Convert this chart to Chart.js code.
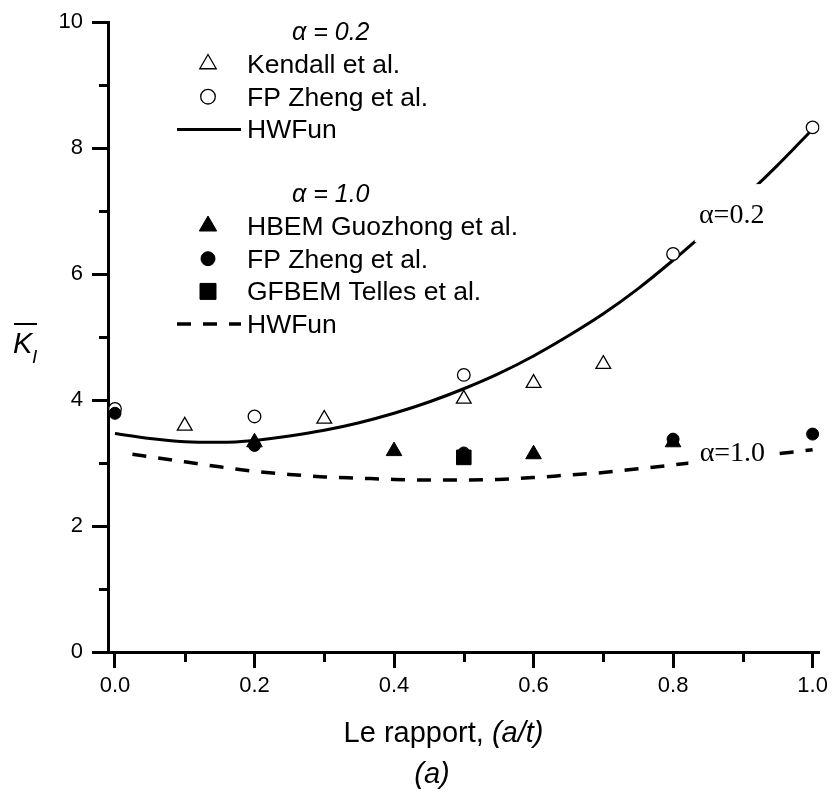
<!DOCTYPE html>
<html>
<head>
<meta charset="utf-8">
<script src="https://cdn.jsdelivr.net/npm/chart.js@4/dist/chart.umd.min.js"></script>
<style>
  html, body { margin: 0; padding: 0; background: #fff; }
  canvas { display: block; }
</style>
</head>
<body>
<canvas id="c" width="833" height="793"></canvas>
<script>
// Normalised stress intensity factor K_I against the crack depth ratio a/t

// alpha = 0.2
const kendallX = [0.1, 0.3, 0.5, 0.6, 0.7];
const kendallY = [3.59, 3.70, 4.02, 4.27, 4.57];
const zhengLowX = [0.0, 0.2, 0.5, 0.8, 1.0];
const zhengLowY = [3.86, 3.74, 4.40, 6.32, 8.33];
const hwfunLowX = [0.0, 0.05, 0.1, 0.15, 0.2, 0.25, 0.3, 0.35, 0.4, 0.45, 0.5, 0.55, 0.6, 0.65, 0.7, 0.75, 0.8, 0.85, 0.9, 0.95, 1.0];
const hwfunLowY = [3.47, 3.39, 3.34, 3.33, 3.36, 3.43, 3.52, 3.64, 3.79, 3.97, 4.18, 4.42, 4.70, 5.02, 5.37, 5.77, 6.22, 6.70, 7.20, 7.73, 8.30];

// alpha = 1.0
const guozhongX = [0.2, 0.4, 0.6, 0.8];
const guozhongY = [3.33, 3.19, 3.14, 3.33];
const zhengHighX = [0.0, 0.2, 0.5, 0.8, 1.0];
const zhengHighY = [3.79, 3.28, 3.16, 3.38, 3.46];
const tellesX = [0.5];
const tellesY = [3.09];
const hwfunHighX = [0.025, 0.05, 0.1, 0.15, 0.2, 0.25, 0.3, 0.35, 0.4, 0.45, 0.5, 0.55, 0.6, 0.65, 0.7, 0.75, 0.8, 0.85, 0.9, 0.95, 1.0];
const hwfunHighY = [3.14, 3.10, 3.02, 2.94, 2.87, 2.82, 2.78, 2.76, 2.74, 2.73, 2.73, 2.74, 2.77, 2.81, 2.85, 2.91, 2.97, 3.03, 3.09, 3.15, 3.21];

// axis ticks
const xMajorTicks = [0.0, 0.2, 0.4, 0.6, 0.8, 1.0];
const xMinorTicks = [0.1, 0.3, 0.5, 0.7, 0.9];
const yMajorTicks = [0, 2, 4, 6, 8, 10];
const yMinorTicks = [1, 3, 5, 7, 9];

// legend groups (dataset indices under each heading)
const legendHeadings = ['α = 0.2', 'α = 1.0'];
const legendGroups = [[0, 1, 2], [3, 4, 5, 6]];

const pts = (xs, ys) => xs.map((x, i) => ({ x: x, y: ys[i] }));

const SANS = "'Liberation Sans', Arial, Helvetica, sans-serif";
const SERIF = "'Liberation Serif', 'Times New Roman', serif";

function drawMarker(ctx, style, x, y, r, filled, lw) {
  ctx.save();
  ctx.beginPath();
  if (style === 'circle') {
    ctx.arc(x, y, r, 0, Math.PI * 2);
  } else if (style === 'triangle') {
    let a = 0;
    ctx.moveTo(x + Math.sin(a) * r, y - Math.cos(a) * r);
    a += Math.PI * 2 / 3;
    ctx.lineTo(x + Math.sin(a) * r, y - Math.cos(a) * r);
    a += Math.PI * 2 / 3;
    ctx.lineTo(x + Math.sin(a) * r, y - Math.cos(a) * r);
    ctx.closePath();
  } else if (style === 'rect') {
    const s = r * Math.SQRT1_2;
    ctx.rect(x - s, y - s, 2 * s, 2 * s);
  }
  ctx.fillStyle = filled ? '#000' : '#fff';
  ctx.fill();
  ctx.lineWidth = lw;
  ctx.strokeStyle = '#000';
  ctx.stroke();
  ctx.restore();
}

// minor tick marks on both axes
const minorTicks = {
  id: 'minorTicks',
  afterDraw(chart) {
    const ctx = chart.ctx, xs = chart.scales.x, ys = chart.scales.y, a = chart.chartArea;
    ctx.save();
    ctx.strokeStyle = '#000';
    ctx.lineWidth = 3;
    ctx.beginPath();
    xMinorTicks.forEach(v => {
      const px = Math.round(xs.getPixelForValue(v)) + 0.5;
      ctx.moveTo(px, a.bottom);
      ctx.lineTo(px, a.bottom + 10);
    });
    yMinorTicks.forEach(v => {
      const py = Math.round(ys.getPixelForValue(v)) + 0.5;
      ctx.moveTo(a.left, py);
      ctx.lineTo(a.left - 9, py);
    });
    ctx.stroke();
    ctx.restore();
  }
};

// curve labels sitting on a white box that interrupts the curve
const curveLabels = {
  id: 'curveLabels',
  afterDatasetsDraw(chart, args, opts) {
    const ctx = chart.ctx, xs = chart.scales.x, ys = chart.scales.y;
    ctx.save();
    opts.items.forEach(it => {
      const px = xs.getPixelForValue(it.x), py = ys.getPixelForValue(it.y);
      ctx.fillStyle = '#fff';
      ctx.fillRect(px + it.box[0], py + it.box[1], it.box[2], it.box[3]);
      ctx.fillStyle = '#000';
      ctx.font = '28px ' + SERIF;
      ctx.textAlign = 'center';
      ctx.textBaseline = 'alphabetic';
      ctx.fillText(it.text, px, py);
    });
    ctx.restore();
  }
};

// legend block, axis titles and caption
const decorations = {
  id: 'decorations',
  afterDraw(chart) {
    const ctx = chart.ctx;
    const ds = chart.data.datasets;
    ctx.save();
    ctx.fillStyle = '#000';
    ctx.textBaseline = 'alphabetic';

    // legend
    const headY = [40, 202];
    legendGroups.forEach((grp, g) => {
      ctx.font = 'italic 25px ' + SANS;
      ctx.textAlign = 'left';
      ctx.fillText(legendHeadings[g], 292, headY[g]);
      grp.forEach((idx, k) => {
        const d = ds[idx];
        const cy = headY[g] - 7 + 31 + k * 32.7;
        if (d.showLine) {
          ctx.save();
          ctx.strokeStyle = '#000';
          ctx.lineWidth = d.borderWidth;
          ctx.setLineDash(d.borderDash || []);
          ctx.beginPath();
          ctx.moveTo(177, cy);
          ctx.lineTo(241, cy);
          ctx.stroke();
          ctx.restore();
        } else {
          drawMarker(ctx, d.pointStyle, 208, cy, d.pointRadius + 1, d.pointBackgroundColor === '#000', d.pointBorderWidth);
        }
        ctx.font = '26.5px ' + SANS;
        ctx.fillStyle = '#000';
        ctx.fillText(d.label, 247, cy + 9);
      });
    });

    // x axis title
    const part1 = 'Le rapport, ', part2 = '(a/t)';
    ctx.font = '29px ' + SANS;
    const w1 = ctx.measureText(part1).width;
    ctx.font = 'italic 29px ' + SANS;
    const w2 = ctx.measureText(part2).width;
    const sx = 443.5 - (w1 + w2) / 2;
    ctx.textAlign = 'left';
    ctx.font = '29px ' + SANS;
    ctx.fillText(part1, sx, 742);
    ctx.font = 'italic 29px ' + SANS;
    ctx.fillText(part2, sx + w1, 742);

    // caption
    ctx.textAlign = 'center';
    ctx.font = 'italic 29px ' + SANS;
    ctx.fillText('(a)', 432, 783);

    // y axis title: K with overbar and subscript I
    ctx.textAlign = 'left';
    ctx.font = 'italic 29px ' + SANS;
    ctx.fillText('K', 13, 353);
    ctx.font = 'italic 19px ' + SANS;
    ctx.fillText('I', 32, 363);
    ctx.strokeStyle = '#000';
    ctx.lineWidth = 2;
    ctx.beginPath();
    ctx.moveTo(14, 324);
    ctx.lineTo(37, 324);
    ctx.stroke();

    ctx.restore();
  }
};

const tickFont = { family: SANS, size: 22 };

new Chart(document.getElementById('c'), {
  type: 'scatter',
  data: {
    datasets: [
      { label: 'Kendall et al.', data: pts(kendallX, kendallY), pointStyle: 'triangle', pointRadius: 8.5,
        pointBackgroundColor: '#fff', pointBorderColor: '#000', pointBorderWidth: 1.3, showLine: false, order: 5 },
      { label: 'FP Zheng et al.', data: pts(zhengLowX, zhengLowY), pointStyle: 'circle', pointRadius: 6.3,
        pointBackgroundColor: '#fff', pointBorderColor: '#000', pointBorderWidth: 1.3, showLine: false, order: 5 },
      { label: 'HWFun', data: pts(hwfunLowX, hwfunLowY), showLine: true, borderColor: '#000', borderWidth: 3,
        pointRadius: 0, cubicInterpolationMode: 'monotone', order: 10 },
      { label: 'HBEM Guozhong et al.', data: pts(guozhongX, guozhongY), pointStyle: 'triangle', pointRadius: 9,
        pointBackgroundColor: '#000', pointBorderColor: '#000', pointBorderWidth: 1, showLine: false, order: 2 },
      { label: 'FP Zheng et al.', data: pts(zhengHighX, zhengHighY), pointStyle: 'circle', pointRadius: 6,
        pointBackgroundColor: '#000', pointBorderColor: '#000', pointBorderWidth: 1, showLine: false, order: 2 },
      { label: 'GFBEM Telles et al.', data: pts(tellesX, tellesY), pointStyle: 'rect', pointRadius: 10.3,
        pointBackgroundColor: '#000', pointBorderColor: '#000', pointBorderWidth: 1, showLine: false, order: 1 },
      { label: 'HWFun', data: pts(hwfunHighX, hwfunHighY), showLine: true, borderColor: '#000', borderWidth: 3.5,
        borderDash: [14, 12], pointRadius: 0, cubicInterpolationMode: 'monotone', order: 10 }
    ]
  },
  options: {
    responsive: false,
    animation: false,
    devicePixelRatio: 1,
    layout: { padding: { top: 21, right: 11, left: 0, bottom: 0 } },
    plugins: {
      legend: { display: false },
      tooltip: { enabled: false },
      curveLabels: {
        items: [
          { text: 'α=0.2', x: 0.884, y: 6.81, box: [-37, -39, 73, 58] },
          { text: 'α=1.0', x: 0.885, y: 3.04, box: [-44, -22, 88, 32] }
        ]
      }
    },
    scales: {
      x: {
        type: 'linear', min: -0.01, max: 1.01,
        afterBuildTicks: s => { s.ticks = xMajorTicks.map(v => ({ value: v })); },
        afterFit: s => { s.height = 141; },
        border: { display: true, color: '#000', width: 3 },
        grid: { display: true, drawOnChartArea: false, drawTicks: true, tickLength: 16, tickWidth: 3, tickColor: '#000' },
        ticks: { color: '#000', font: tickFont, padding: 5, maxRotation: 0, callback: v => Number(v).toFixed(1) }
      },
      y: {
        type: 'linear', min: 0, max: 10,
        afterBuildTicks: s => { s.ticks = yMajorTicks.map(v => ({ value: v })); },
        afterFit: s => { s.width = 108; },
        border: { display: true, color: '#000', width: 3 },
        grid: { display: true, drawOnChartArea: false, drawTicks: true, tickLength: 16, tickWidth: 3, tickColor: '#000' },
        ticks: { color: '#000', font: tickFont, padding: 9, callback: v => String(v) }
      }
    }
  },
  plugins: [minorTicks, curveLabels, decorations]
});
</script>
</body>
</html>
